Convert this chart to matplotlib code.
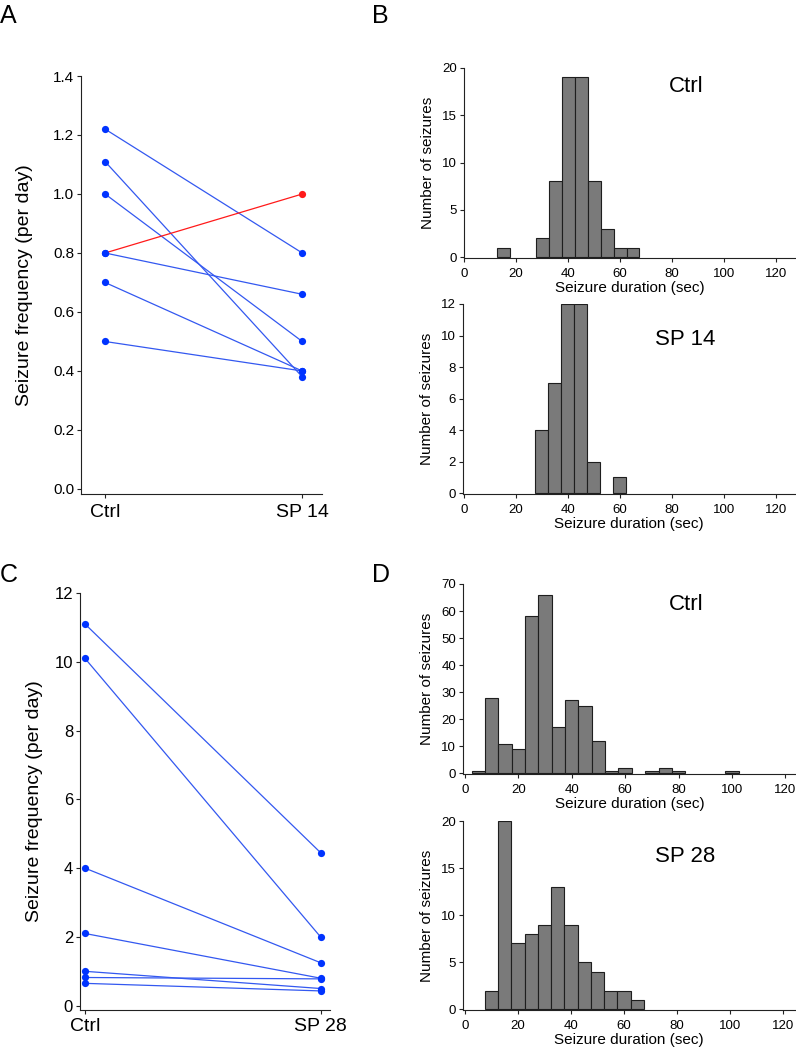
import matplotlib
matplotlib.use("Agg")
import matplotlib.pyplot as plt

plt.rcParams['font.family'] = ['Liberation Sans', 'DejaVu Sans']

# ── Panel A: seizure frequency, Ctrl vs SP 14 ──
ctrl_a = [1.22, 1.11, 1.00, 0.80, 0.80, 0.70, 0.50]
sp14_a = [0.80, 0.38, 0.50, 0.66, 1.00, 0.40, 0.40]
increase_a = [False, False, False, False, True, False, False]

# ── Panel C: seizure frequency, Ctrl vs SP 28 ──
ctrl_c = [11.1, 10.1, 4.0, 2.1, 1.0, 0.82, 0.65]
sp28_c = [4.45, 2.0, 1.25, 0.80, 0.50, 0.78, 0.43]

# ── Histograms (5 s bins, labelled by bin centre) ──
b_ctrl_bins = [15, 30, 35, 40, 45, 50, 55, 60, 65]
b_ctrl_counts = [1, 2, 8, 19, 19, 8, 3, 1, 1]
b_sp14_bins = [30, 35, 40, 45, 50, 60]
b_sp14_counts = [4, 7, 12, 12, 2, 1]
d_ctrl_bins = [5, 10, 15, 20, 25, 30, 35, 40, 45, 50, 55, 60, 70, 75, 80, 100]
d_ctrl_counts = [1, 28, 11, 9, 58, 66, 17, 27, 25, 12, 1, 2, 1, 2, 1, 1]
d_sp28_bins = [10, 15, 20, 25, 30, 35, 40, 45, 50, 55, 60, 65]
d_sp28_counts = [2, 20, 7, 8, 9, 13, 9, 5, 4, 2, 2, 1]

W, H = 796, 1050
fig = plt.figure(figsize=(W / 100, H / 100), dpi=100)

BLUE_DOT = '#0033ff'
BLUE_LINE = '#3358f0'
RED = '#ff1a1a'
AXCOL = '#222222'


def px_axes(left, top, right, bottom):
    """Axes placed by pixel edges (origin top-left)."""
    return fig.add_axes([left / W, 1 - bottom / H, (right - left) / W, (bottom - top) / H])


def igor_style(ax, xsize, ysize, xpad=2):
    for s in ('top', 'right'):
        ax.spines[s].set_visible(False)
    for s in ('left', 'bottom'):
        ax.spines[s].set_color(AXCOL)
        ax.spines[s].set_linewidth(0.8)
    ax.tick_params(axis='both', direction='out', length=3, width=0.8, color=AXCOL)
    ax.tick_params(axis='x', labelsize=xsize, pad=xpad)
    ax.tick_params(axis='y', labelsize=ysize, pad=2)


def paired_panel(ax, pre, post, ups, ylim, yticks, yfmt, xlim, post_name, ylpad):
    for a, b, up in zip(pre, post, ups):
        if up:
            continue
        ax.plot([0, 1], [a, b], color=BLUE_LINE, lw=0.9, zorder=2)
        ax.plot([0, 1], [a, b], 'o', color=BLUE_DOT, ms=5.2, mew=0, zorder=3)
    for a, b, up in zip(pre, post, ups):
        if up:
            ax.plot([0, 1], [a, b], color=RED, lw=0.9, zorder=4)
            ax.plot(0, a, 'o', color=BLUE_DOT, ms=5.2, mew=0, zorder=5)
            ax.plot(1, b, 'o', color=RED, ms=5.2, mew=0, zorder=5)
    ax.set_xlim(*xlim)
    ax.set_ylim(*ylim)
    ax.set_xticks([0, 1])
    ax.set_xticklabels(['Ctrl', post_name])
    ax.set_yticks(yticks)
    ax.set_yticklabels([yfmt.format(v) for v in yticks])
    ax.set_ylabel('Seizure frequency (per day)', fontsize=14, labelpad=ylpad)


def hist_panel(ax, bins, counts, ylim, yticks, xlim, name, name_y):
    ax.bar(bins, counts, width=5, color='#7a7a7a', edgecolor='#1e1e1e', linewidth=0.8)
    ax.set_xlim(*xlim)
    ax.set_ylim(*ylim)
    ax.set_xticks([0, 20, 40, 60, 80, 100, 120])
    ax.set_yticks(yticks)
    ax.set_xlabel('Seizure duration (sec)', fontsize=11, labelpad=1)
    ax.set_ylabel('Number of seizures', fontsize=11, labelpad=5)
    ax.text(0.67, name_y, name, transform=ax.transAxes, fontsize=16,
            ha='center', va='center')


# A
ax_a = px_axes(81, 76, 322, 494)
paired_panel(ax_a, ctrl_a, sp14_a, increase_a, (-0.017, 1.4),
             [0.0, 0.2, 0.4, 0.6, 0.8, 1.0, 1.2, 1.4], '{:.1f}', (-0.122, 1.10), 'SP 14', 14)
igor_style(ax_a, 14, 11, xpad=4)

# C
ax_c = px_axes(80, 593, 330, 1010)
paired_panel(ax_c, ctrl_c, sp28_c, [False] * len(ctrl_c), (-0.125, 12),
             [0, 2, 4, 6, 8, 10, 12], '{:d}', (-0.021, 1.04), 'SP 28', 8)
igor_style(ax_c, 14, 12, xpad=3)

# B
ax_b1 = px_axes(464, 68, 795, 258)
hist_panel(ax_b1, b_ctrl_bins, b_ctrl_counts, (-0.1, 20), [0, 5, 10, 15, 20],
           (-0.1, 127.4), 'Ctrl', 0.9)
igor_style(ax_b1, 9.5, 9.5, xpad=4)
ax_b2 = px_axes(463, 304, 795, 494)
hist_panel(ax_b2, b_sp14_bins, b_sp14_counts, (-0.06, 12), [0, 2, 4, 6, 8, 10, 12],
           (-0.4, 127.4), 'SP 14', 0.815)
igor_style(ax_b2, 9.5, 9.5, xpad=4)

# D
ax_d1 = px_axes(463, 584, 796, 774)
hist_panel(ax_d1, d_ctrl_bins, d_ctrl_counts, (-0.25, 70), [0, 10, 20, 30, 40, 50, 60, 70],
           (-0.75, 124), 'Ctrl', 0.89)
igor_style(ax_d1, 9.5, 9.5, xpad=4)
ax_d2 = px_axes(463, 821, 795, 1010)
hist_panel(ax_d2, d_sp28_bins, d_sp28_counts, (-0.07, 20), [0, 5, 10, 15, 20],
           (-0.75, 124.5), 'SP 28', 0.81)
igor_style(ax_d2, 9.5, 9.5, xpad=4)

# panel letters
for letter, x, y in [('A', 0, 4), ('B', 372, 4), ('C', 0, 563), ('D', 372, 563)]:
    fig.text(x / W, 1 - y / H, letter, fontsize=18, ha='left', va='top')

fig.savefig('out.png', dpi=100)
